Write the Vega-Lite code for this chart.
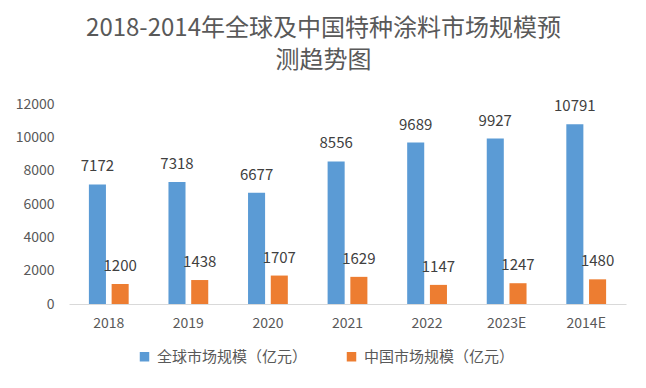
{
  "$schema": "https://vega.github.io/schema/vega-lite/v6.json",
  "autosize": "none",
  "width": 557,
  "height": 200,
  "padding": {"left": 69, "top": 104, "right": 20, "bottom": 84},
  "background": "white",
  "config": {
    "font": "Noto Sans CJK SC",
    "view": {"stroke": null}
  },
  "title": {
    "text": ["2018-2014年全球及中国特种涂料市场规模预", "测趋势图"],
    "fontSize": 24,
    "fontWeight": "normal",
    "color": "#595959",
    "lineHeight": 32,
    "anchor": "middle",
    "dx": -24,
    "offset": 24
  },
  "data": {
    "values": [
      {"year": "2018", "series": "全球市场规模（亿元）", "value": 7172},
      {"year": "2018", "series": "中国市场规模（亿元）", "value": 1200},
      {"year": "2019", "series": "全球市场规模（亿元）", "value": 7318},
      {"year": "2019", "series": "中国市场规模（亿元）", "value": 1438},
      {"year": "2020", "series": "全球市场规模（亿元）", "value": 6677},
      {"year": "2020", "series": "中国市场规模（亿元）", "value": 1707},
      {"year": "2021", "series": "全球市场规模（亿元）", "value": 8556},
      {"year": "2021", "series": "中国市场规模（亿元）", "value": 1629},
      {"year": "2022", "series": "全球市场规模（亿元）", "value": 9689},
      {"year": "2022", "series": "中国市场规模（亿元）", "value": 1147},
      {"year": "2023E", "series": "全球市场规模（亿元）", "value": 9927},
      {"year": "2023E", "series": "中国市场规模（亿元）", "value": 1247},
      {"year": "2014E", "series": "全球市场规模（亿元）", "value": 10791},
      {"year": "2014E", "series": "中国市场规模（亿元）", "value": 1480}
    ]
  },
  "encoding": {
    "x": {
      "field": "year",
      "type": "nominal",
      "sort": null,
      "scale": {"paddingInner": 0.5, "paddingOuter": 0.25},
      "axis": {
        "title": null,
        "labelAngle": 0,
        "labelFontSize": 14,
        "labelColor": "#595959",
        "labelPadding": 12,
        "ticks": false,
        "domainColor": "#d9d9d9",
        "domainWidth": 1
      }
    },
    "xOffset": {
      "field": "series",
      "type": "nominal",
      "sort": ["全球市场规模（亿元）", "中国市场规模（亿元）"],
      "scale": {"paddingInner": 0.25, "paddingOuter": 0}
    },
    "y": {
      "field": "value",
      "type": "quantitative",
      "scale": {"domain": [0, 12000], "nice": false},
      "axis": {
        "title": null,
        "values": [0, 2000, 4000, 6000, 8000, 10000, 12000],
        "format": "d",
        "labelFontSize": 14,
        "labelColor": "#595959",
        "labelPadding": 15,
        "ticks": false,
        "domain": false,
        "grid": false
      }
    }
  },
  "layer": [
    {
      "mark": {"type": "bar"},
      "encoding": {
        "color": {
          "field": "series",
          "type": "nominal",
          "sort": ["全球市场规模（亿元）", "中国市场规模（亿元）"],
          "scale": {"domain": ["全球市场规模（亿元）", "中国市场规模（亿元）"], "range": ["#5B9BD5", "#ED7D31"]},
          "legend": {
            "title": null,
            "orient": "none",
            "legendX": 68,
            "legendY": 245,
            "direction": "horizontal",
            "symbolType": "square",
            "symbolSize": 90,
            "symbolStrokeWidth": 0,
            "labelFontSize": 15,
            "labelColor": "#595959",
            "labelOffset": 5,
            "columnPadding": 36
          }
        }
      }
    },
    {
      "mark": {"type": "text", "baseline": "middle", "dy": -18, "fontSize": 15, "color": "#404040"},
      "encoding": {
        "text": {"field": "value", "type": "quantitative", "format": "d"}
      }
    }
  ]
}
